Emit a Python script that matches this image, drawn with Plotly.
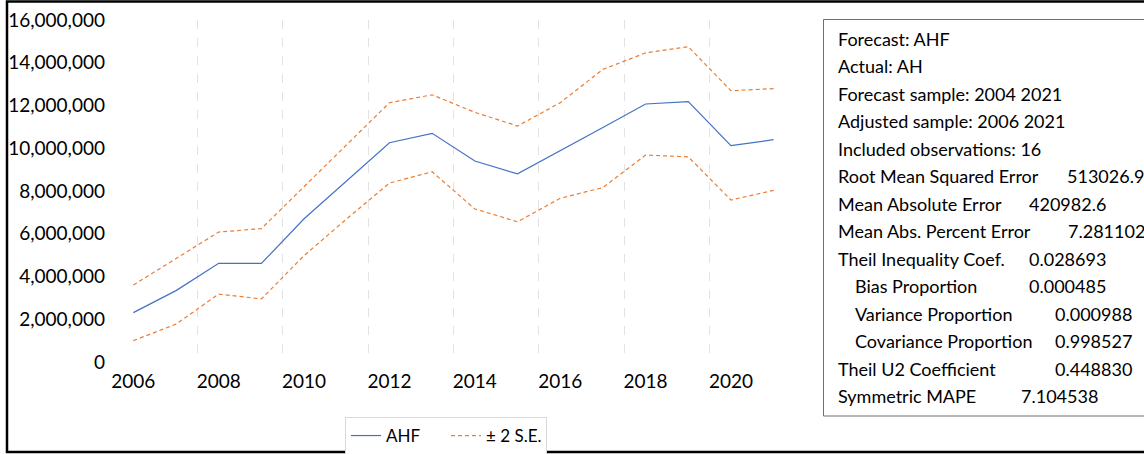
import plotly.graph_objects as go

# ---------------- data ----------------
years = list(range(2006, 2022))
ahf = [2.31e6, 3.34e6, 4.62e6, 4.61e6, 6.70e6, 8.48e6, 10.26e6, 10.70e6,
       9.40e6, 8.80e6, 9.87e6, 10.97e6, 12.07e6, 12.18e6, 10.12e6, 10.40e6]
upper = [3.60e6, 4.86e6, 6.08e6, 6.24e6, 8.22e6, 10.17e6, 12.13e6, 12.50e6,
         11.68e6, 11.04e6, 12.13e6, 13.69e6, 14.46e6, 14.75e6, 12.69e6, 12.79e6]
lower = [1.00e6, 1.77e6, 3.18e6, 2.95e6, 4.98e6, 6.70e6, 8.37e6, 8.90e6,
         7.16e6, 6.56e6, 7.66e6, 8.16e6, 9.68e6, 9.60e6, 7.58e6, 8.03e6]
x_tick_years = [2006, 2008, 2010, 2012, 2014, 2016, 2018, 2020]
y_ticks = [0, 2e6, 4e6, 6e6, 8e6, 10e6, 12e6, 14e6, 16e6]

stat_labels = ["Forecast: AHF", "Actual: AH", "Forecast sample: 2004 2021",
               "Adjusted sample: 2006 2021", "Included observations: 16",
               "Root Mean Squared Error", "Mean Absolute Error",
               "Mean Abs. Percent Error", "Theil Inequality Coef.",
               "Bias Proportion", "Variance Proportion",
               "Covariance Proportion", "Theil U2 Coefficient", "Symmetric MAPE"]
stat_values = ["", "", "", "", "", "513026.9", "420982.6", "7.281102",
               "0.028693", "0.000485", "0.000988", "0.998527", "0.448830",
               "7.104538"]

# ---------------- layout geometry (pixels) ----------------
W, H = 1144, 454
PL, PR, PT, PB = 112, 795, 20, 362   # plot area
FONT = "Lato"


def px_x(px):
    return (px - PL) / (PR - PL)


def px_y(py):
    return (PB - py) / (PB - PT)


label_indent = [836] * 9 + [853, 853, 853] + [836, 836]
value_x = [0, 0, 0, 0, 0, 1065, 1027, 1066, 1027, 1027, 1053, 1053, 1053, 1019]
row_y0, row_step = 39, 27.46

BLUE = "#4472C4"
ORANGE = "#ED7D31"

fig = go.Figure()
fig.add_trace(go.Scatter(x=years, y=ahf, mode="lines", name="AHF",
                         line=dict(color=BLUE, width=1.2)))
fig.add_trace(go.Scatter(x=years, y=upper, mode="lines", name="± 2 S.E.",
                         line=dict(color=ORANGE, width=1.2, dash="4px,3px")))
fig.add_trace(go.Scatter(x=years, y=lower, mode="lines", name="± 2 S.E.",
                         showlegend=False,
                         line=dict(color=ORANGE, width=1.2, dash="4px,3px")))

grid_x = [y + 1.5 for y in x_tick_years[:-1]]

fig.update_layout(
    width=W, height=H,
    margin=dict(l=PL, r=W - PR, t=PT, b=H - PB, autoexpand=False),
    paper_bgcolor="white", plot_bgcolor="white",
    font=dict(family=FONT, color="#000000", size=19),
    xaxis=dict(range=[years[0] - 0.5, years[-1] + 0.5], tickvals=x_tick_years,
               ticktext=[str(v) for v in x_tick_years],
               showgrid=False, zeroline=False, showline=False, ticks="",
               ticklabelstandoff=6, tickfont=dict(size=19),
               minor=dict(tickvals=grid_x, showgrid=True, griddash="dash",
                          gridcolor="#E3E3E3", gridwidth=1, ticks="")),
    yaxis=dict(range=[0, 16e6], tickvals=y_ticks, tickformat=",",
               showgrid=False, zeroline=False, showline=False, ticks="",
               ticklabelstandoff=6, tickfont=dict(size=19)),
    legend=dict(orientation="h", x=px_x(345), y=px_y(417),
                xanchor="left", yanchor="top", bgcolor="white",
                bordercolor="#D9D9D9", borderwidth=1,
                entrywidth=55, entrywidthmode="pixels",
                font=dict(size=17, family=FONT)),
    showlegend=True,
)

shapes = [
    # outer chart border
    dict(type="rect", xref="paper", yref="paper",
         x0=px_x(7), x1=px_x(1160), y0=px_y(1.5), y1=px_y(452),
         line=dict(color="black", width=2.5), fillcolor="rgba(0,0,0,0)",
         layer="above"),
    # statistics box
    dict(type="rect", xref="paper", yref="paper",
         x0=px_x(823.5), x1=px_x(1170), y0=px_y(19.5), y1=px_y(416),
         line=dict(color="#6E6E6E", width=1), fillcolor="white",
         layer="below"),
]
fig.update_layout(shapes=shapes)

annotations = []
for i, (lab, val) in enumerate(zip(stat_labels, stat_values)):
    yy = px_y(row_y0 + i * row_step)
    annotations.append(dict(text=lab, xref="paper", yref="paper",
                            x=px_x(label_indent[i]), y=yy, xanchor="left",
                            yanchor="middle", showarrow=False,
                            font=dict(size=18, family=FONT, color="black")))
    if val:
        annotations.append(dict(text=val, xref="paper", yref="paper",
                                x=px_x(value_x[i]), y=yy, xanchor="left",
                                yanchor="middle", showarrow=False,
                                font=dict(size=18, family=FONT, color="black")))
fig.update_layout(annotations=annotations)

fig.write_html("out.html", config={"displayModeBar": False},
               post_script="document.body.style.margin='0';"
                           "document.body.style.overflow='hidden';")
